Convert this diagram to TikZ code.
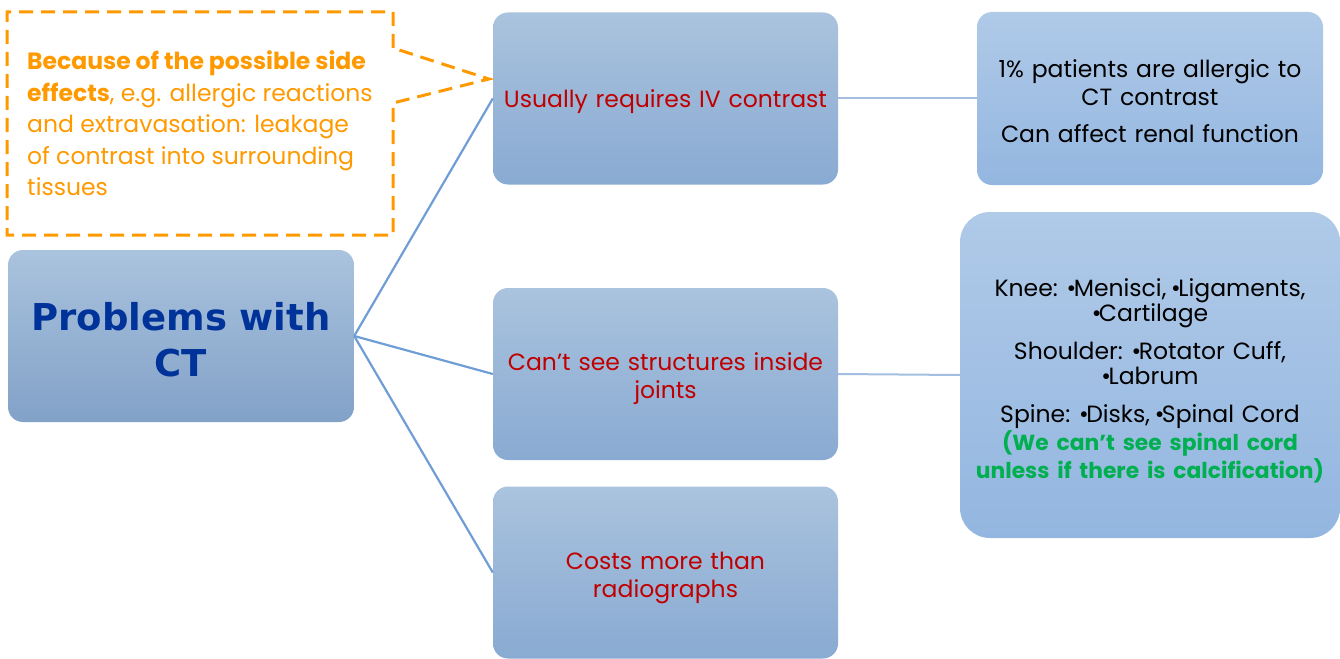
\documentclass[tikz,border=0pt]{standalone}
\usepackage{fontspec}
\setmainfont{Poppins}
\newfontfamily\titlefont{DejaVu Sans}
\newcommand\bu{\kern-3pt•\kern-2.5pt}
\newcommand\lift[1]{\rule{0pt}{#1}}
\definecolor{boxtop}{HTML}{AAC3DE}
\definecolor{boxbot}{HTML}{89AAD2}
\definecolor{rtop}{HTML}{B0CAE8}
\definecolor{rbot}{HTML}{93B6E0}
\definecolor{linkL}{HTML}{6F9DD6}
\definecolor{linkR}{HTML}{A3BEE0}
\definecolor{titleblue}{HTML}{003399}
\definecolor{redtxt}{HTML}{C00000}
\definecolor{orangetxt}{HTML}{FF9900}
\definecolor{greentxt}{HTML}{00B050}
\tikzset{
  midbox/.style={rounded corners=15pt, top color=boxtop, bottom color=boxbot, draw=none,
    minimum width=345pt, minimum height=172pt, inner sep=0pt, align=center,
    text width=335pt, text=redtxt, font=\fontsize{23.5}{28}\selectfont},
  rightbox/.style={rounded corners=15pt, top color=rtop, bottom color=rbot, draw=none,
    inner sep=0pt, align=center, text=black, font=\fontsize{23.5}{28}\selectfont},
  linkl/.style={draw=linkL, line width=2.2pt},
  linkr/.style={draw=linkR, line width=2pt},
  notebox/.style={draw=orangetxt, line width=3pt, dash pattern=on 14pt off 8pt},
}
\begin{document}
\begin{tikzpicture}[x=1pt,y=-1pt]
\useasboundingbox (0,0) rectangle (1340,658);
% root
\node[rounded corners=15pt, top color=boxtop, bottom color=boxbot!95!black, draw=none,
  minimum width=346pt, minimum height=172pt, inner sep=0pt, align=center, text width=340pt,
  text=titleblue, font=\titlefont\bfseries\fontsize{37}{46}\selectfont] (root) at (181,336) {\lift{36pt}Problems with\\CT};
% middle boxes
\node[midbox, text depth=0pt] (b1) at (665.5,98.5) {Usually requires IV contrast};
\node[midbox] (b2) at (665.5,374) {\lift{27.5pt}Can’t see structures inside\\joints};
\node[midbox] (b3) at (665.5,572.5) {\lift{27.5pt}Costs more than\\radiographs};
% right boxes
\node[rightbox, minimum width=346pt, minimum height=173pt, text width=340pt] (r1) at (1150,98.5)
  {\lift{22.5pt}1\% patients are allergic to\\CT contrast\\[9pt]Can affect renal function};
\node[rightbox, rounded corners=30pt, minimum width=380pt, minimum height=326pt, text width=375pt] (r2) at (1150,375)
  {\lift{30.5pt}Knee: \bu Menisci, \bu Ligaments,\\\bu Cartilage\\[10pt]Shoulder: \bu Rotator Cuff,\\\bu Labrum\\[10pt]Spine: \bu Disks, \bu Spinal Cord\\
   \textcolor{greentxt}{\bfseries\fontsize{21.8}{28}\selectfont (We can’t see spinal cord}\\\textcolor{greentxt}{\bfseries\fontsize{21.8}{28}\selectfont unless if there is calcification)}};
% connectors
\draw[linkl] (root.east) -- (b1.west);
\draw[linkl] (root.east) -- (b2.west);
\draw[linkl] (root.east) -- (b3.west);
\draw[linkr] (b1.east) -- (r1.west);
\draw[linkr] (b2.east) -- (r2.west);
% note callout
\coordinate (tip) at (489,79);
\draw[notebox] (393,48) -- (393,12) -- (7,12) -- (7,235) -- (393,235) -- (393,103) -- (tip) -- cycle;
\node[anchor=north west, inner sep=0pt, align=left, text=orangetxt,
  font=\fontsize{23.5}{31.5}\selectfont] (note) at (27,50.5)
  {\textbf{Because of the possible side}\\\textbf{effects}, e.g. allergic reactions\\and extravasation: leakage\\of contrast into surrounding\\tissues};
\end{tikzpicture}
\end{document}
